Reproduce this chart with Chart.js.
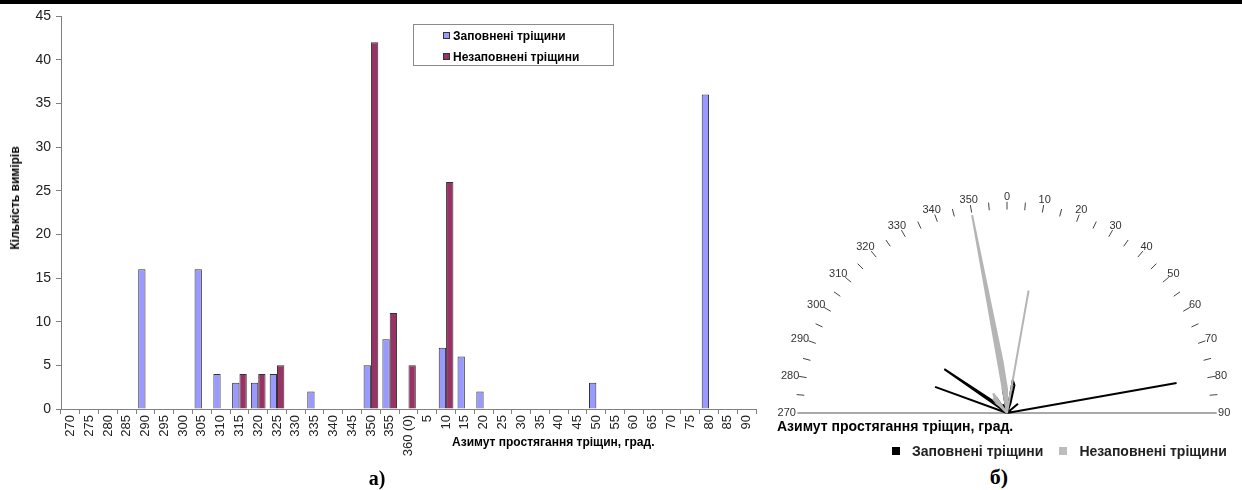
<!DOCTYPE html>
<html>
<head>
<meta charset="utf-8">
<script src="https://cdn.jsdelivr.net/npm/chart.js@4/dist/chart.umd.min.js"></script>
<style>
  html, body { margin: 0; padding: 0; background: #fff; }
  body { width: 1242px; height: 490px; position: relative; overflow: hidden; font-family: 'Liberation Sans', Arial, sans-serif; }
  .abs { position: absolute; white-space: nowrap; }
  #topBand { left: 0; top: 0; width: 1242px; height: 4px; background: #000; }
  #barBox { left: 0; top: 0; width: 770px; height: 470px; }
  #roseBox { left: 767px; top: 173px; width: 480px; height: 246px; overflow: hidden; }
  #yTitle { left: 15px; top: 198px; transform: translate(-50%, -50%) rotate(-90deg); font-weight: bold; font-size: 12px; color: #000; }
  #xTitle { left: 452px; top: 435px; font-weight: bold; font-size: 12px; color: #000; }
  #legendA { left: 413px; top: 24px; width: 199px; height: 40px; border: 1px solid #8a8a8a; font-weight: bold; font-size: 12px; }
  #legendA .row { position: absolute; left: 29px; height: 14px; line-height: 14px; }
  #legendA .sw { display: inline-block; width: 5px; height: 5px; border: 1px solid #333; margin-right: 3px; vertical-align: 1px; }
  .panelTag { font-family: 'Liberation Serif', 'Times New Roman', serif; font-weight: bold; color: #000; transform: translate(-50%, -50%); }
  #tagA { left: 377px; top: 478px; font-size: 20px; }
  #tagB { left: 999px; top: 477px; font-size: 22px; }
  #roseTitle { left: 777px; top: 418px; font-weight: bold; font-size: 14px; color: #000; }
  #roseLegend { left: 892px; top: 443px; font-weight: bold; font-size: 14px; color: #222; }
  #roseLegend .sw { display: inline-block; width: 8px; height: 8px; margin-right: 12px; vertical-align: 1px; }
</style>
</head>
<body>
<div id="topBand" class="abs"></div>
<div id="barBox" class="abs"><canvas id="bars" width="770" height="470"></canvas></div>
<div id="yTitle" class="abs">Кількість вимірів</div>
<div id="xTitle" class="abs">Азимут простягання тріщин, град.</div>
<div id="legendA" class="abs">
  <div class="row" style="top:4px"><span class="sw" style="background:#9999ff"></span>Заповнені тріщини</div>
  <div class="row" style="top:25px"><span class="sw" style="background:#993366"></span>Незаповнені тріщини</div>
</div>
<div id="tagA" class="abs panelTag">а)</div>

<div id="roseBox" class="abs"><canvas id="rose" width="480" height="480"></canvas></div>
<div id="roseTitle" class="abs">Азимут простягання тріщин, град.</div>
<div id="roseLegend" class="abs"><span class="sw" style="background:#000"></span>Заповнені тріщини<span style="display:inline-block;width:16px"></span><span class="sw" style="background:#bdbdbd"></span>Незаповнені тріщини</div>
<div id="tagB" class="abs panelTag">б)</div>

<script>
// azimuth bins, 270 -> 360(0) -> 90
const azimuths = [270, 275, 280, 285, 290, 295, 300, 305, 310, 315, 320, 325, 330, 335, 340, 345, 350, 355, 360,
  5, 10, 15, 20, 25, 30, 35, 40, 45, 50, 55, 60, 65, 70, 75, 80, 85, 90]
const azimuthLabels = azimuths.map(a => a === 360 ? '360 (0)' : String(a))

// number of measurements
const filledCounts = [0, 0, 0, 0, 16, 0, 0, 16, 4, 3, 3, 4, 0, 2, 0, 0, 5, 8, 0,
  0, 7, 6, 2, 0, 0, 0, 0, 0, 3, 0, 0, 0, 0, 0, 36, 0, 0]
const unfilledCounts = [0, 0, 0, 0, 0, 0, 0, 0, 0, 4, 4, 5, 0, 0, 0, 0, 42, 11, 5,
  0, 26, 0, 0, 0, 0, 0, 0, 0, 0, 0, 0, 0, 0, 0, 0, 0, 0]

const yMax = 45
const yStep = 5
const roseMax = 46
const roseLabelStep = 10

const seriesNames = ['Заповнені тріщини', 'Незаповнені тріщини']
const font = 'Liberation Sans'

// ---- a) bar chart ----
new Chart(document.getElementById('bars'), {
  type: 'bar',
  data: {
    labels: azimuthLabels,
    datasets: [
      { label: seriesNames[0], data: filledCounts, backgroundColor: '#9999ff', borderColor: '#333', borderWidth: 1 },
      { label: seriesNames[1], data: unfilledCounts, backgroundColor: '#993366', borderColor: '#333', borderWidth: 1 },
    ]
  },
  options: {
    responsive: false,
    animation: false,
    categoryPercentage: 0.78,
    barPercentage: 1,
    layout: { padding: { top: 16, right: 14, left: 0, bottom: 0 } },
    plugins: { legend: { display: false }, tooltip: { enabled: false } },
    scales: {
      x: {
        grid: { drawOnChartArea: false, drawTicks: true, tickLength: 5, color: '#808080', offset: true },
        border: { color: '#808080' },
        ticks: { autoSkip: false, maxRotation: 90, minRotation: 90, padding: 1, color: '#222', font: { family: font, size: 13 } },
        afterFit: s => { s.height = 61 }
      },
      y: {
        min: 0,
        max: yMax,
        grid: { drawOnChartArea: false, tickLength: 5, color: '#808080' },
        border: { color: '#808080' },
        ticks: { stepSize: yStep, padding: 5, color: '#222', font: { family: font, size: 14 } },
        afterFit: s => { s.width = 61 }
      }
    }
  }
})

// ---- б) rose diagram (radar, 5 degree bins round the full circle) ----
const roseAz = []
for (let a = 0; a < 360; a += 5) roseAz.push(a)
const toRose = counts => roseAz.map(a => {
  const i = azimuths.findIndex(b => b % 360 === a)
  return i < 0 ? 0 : counts[i]
})
const inUpperHalf = a => a >= 270 || a <= 90

const roseDecor = {
  id: 'roseDecor',
  beforeDatasetsDraw(chart) {
    const r = chart.scales.r
    const R = r.drawingArea
    const ctx = chart.ctx
    ctx.save()
    // 270 - 90 base line
    const p270 = r.getPointPosition(54, R * 0.953)
    const p90 = r.getPointPosition(18, R * 0.953)
    ctx.strokeStyle = '#8c8c8c'
    ctx.lineWidth = 1.5
    ctx.beginPath()
    ctx.moveTo(p270.x, r.yCenter)
    ctx.lineTo(p90.x, r.yCenter)
    ctx.stroke()
    // tick dashes and labels
    ctx.strokeStyle = '#444'
    ctx.lineWidth = 1
    ctx.fillStyle = '#333'
    ctx.font = '11px ' + font
    ctx.textAlign = 'center'
    ctx.textBaseline = 'middle'
    roseAz.forEach((a, i) => {
      if (!inUpperHalf(a)) return
      if (a !== 90 && a !== 270) {
        const p1 = r.getPointPosition(i, R * 0.925)
        const p2 = r.getPointPosition(i, R * 0.96)
        ctx.beginPath()
        ctx.moveTo(p1.x, p1.y)
        ctx.lineTo(p2.x, p2.y)
        ctx.stroke()
      }
      if (a % roseLabelStep === 0) {
        const txt = String(a)
        const w = ctx.measureText(txt).width
        const ang = a * Math.PI / 180
        const p = r.getPointPosition(i, R * 0.955)
        const x = p.x + Math.sin(ang) * (w / 2 + 1)
        const y = p.y - Math.cos(ang) * 6
        ctx.fillText(txt, x, y)
      }
    })
    ctx.restore()
  }
}

new Chart(document.getElementById('rose'), {
  type: 'radar',
  data: {
    labels: roseAz.map(String),
    datasets: [
      { label: seriesNames[1], data: toRose(unfilledCounts), borderColor: '#b5b5b5', backgroundColor: '#b5b5b5', borderWidth: 2, borderJoinStyle: 'bevel', pointRadius: 0, fill: 'origin', tension: 0 },
      { label: seriesNames[0], data: toRose(filledCounts), borderColor: '#000', borderWidth: 2, borderJoinStyle: 'bevel', pointRadius: 0, fill: false, tension: 0 },
    ]
  },
  options: {
    responsive: false,
    animation: false,
    layout: { padding: 20 },
    plugins: { legend: { display: false }, tooltip: { enabled: false } },
    scales: {
      r: {
        min: 0,
        max: roseMax,
        ticks: { display: false },
        grid: { display: false },
        angleLines: { display: false },
        pointLabels: { display: false }
      }
    }
  },
  plugins: [roseDecor]
})
</script>
</body>
</html>
